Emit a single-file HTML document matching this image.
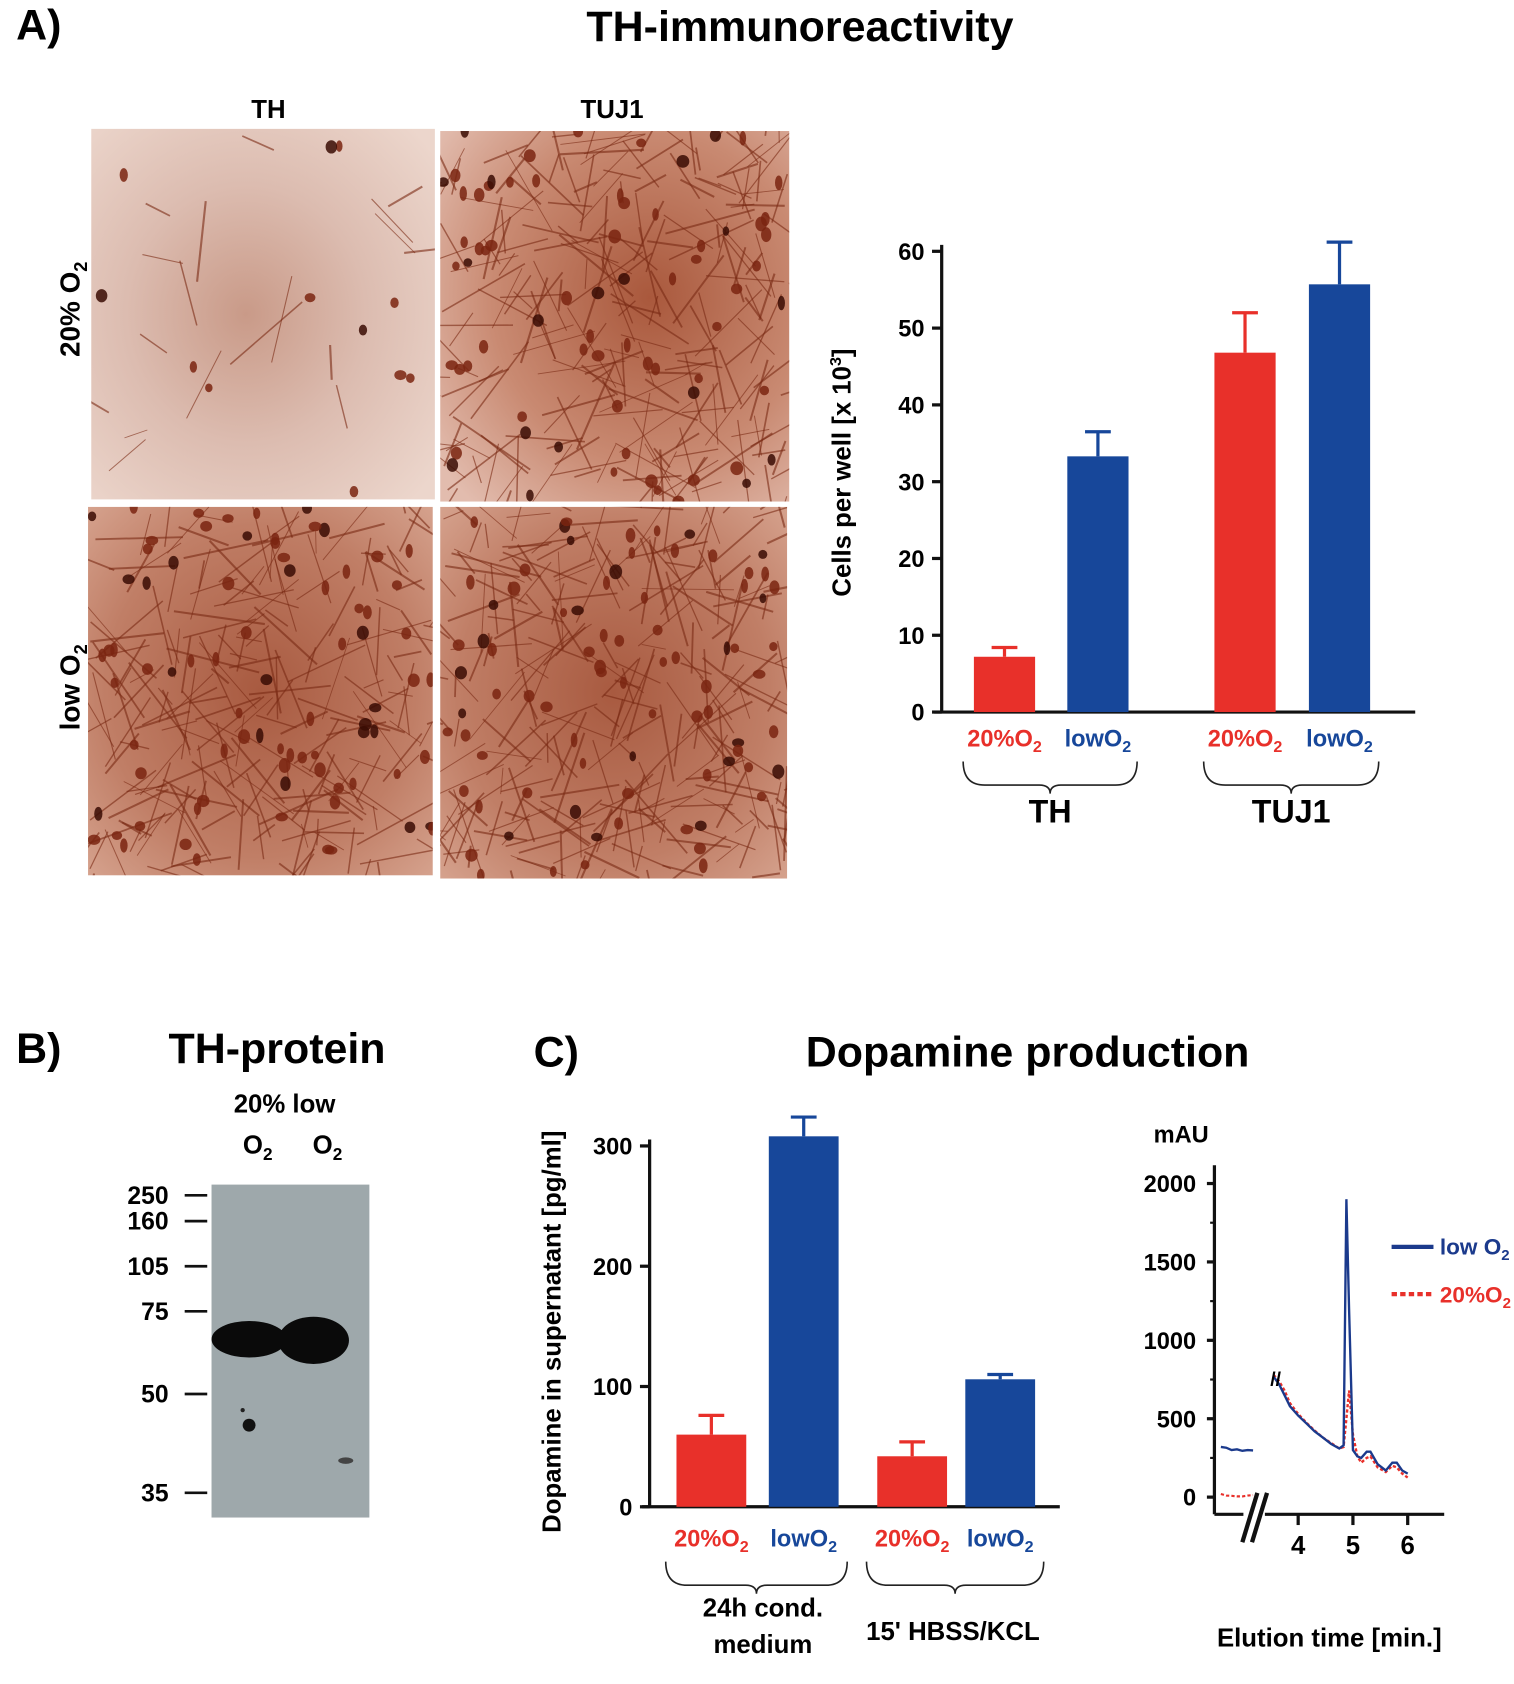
<!DOCTYPE html>
<html><head><meta charset="utf-8"><style>
html,body{margin:0;padding:0;background:#fff}
svg{display:block}
text{font-family:"Liberation Sans",Arial,sans-serif;font-weight:bold}
</style></head><body>
<svg id="fig" width="1514" height="1684" viewBox="0 0 1410 1568" preserveAspectRatio="none" xmlns="http://www.w3.org/2000/svg">
<defs>
<radialGradient id="gTL" cx="0.45" cy="0.5" r="0.7"><stop offset="0" stop-color="#c99a88"/><stop offset="0.5" stop-color="#dcbcb0"/><stop offset="1" stop-color="#ecd6cc"/></radialGradient>
<radialGradient id="gD" cx="0.5" cy="0.5" r="0.75"><stop offset="0" stop-color="#a85a40"/><stop offset="0.6" stop-color="#c07e66"/><stop offset="1" stop-color="#d9a894"/></radialGradient>
<radialGradient id="gTR" cx="0.6" cy="0.45" r="0.75"><stop offset="0" stop-color="#a9583c"/><stop offset="0.6" stop-color="#c98a72"/><stop offset="1" stop-color="#e2bcae"/></radialGradient>
</defs>
<text x="15" y="37" font-size="40">A)</text>
<text x="745" y="38" font-size="40" text-anchor="middle">TH-immunoreactivity</text>
<text x="250" y="110" font-size="24" text-anchor="middle">TH</text>
<text x="570" y="110" font-size="24" text-anchor="middle">TUJ1</text>
<text transform="translate(74,288) rotate(-90)" font-size="26" text-anchor="middle">20% O<tspan font-size="17" dy="7">2</tspan></text>
<text transform="translate(74,640) rotate(-90)" font-size="26" text-anchor="middle">low O<tspan font-size="17" dy="7">2</tspan></text>
<g id="micro"></g>
<g id="chartA"></g>
<!-- B -->
<text x="15" y="990" font-size="40">B)</text>
<text x="258" y="990" font-size="40" text-anchor="middle">TH-protein</text>
<text x="265" y="1036" font-size="24" text-anchor="middle">20% low</text>
<text x="240" y="1074" font-size="24" text-anchor="middle">O<tspan font-size="16" dy="6">2</tspan></text>
<text x="305" y="1074" font-size="24" text-anchor="middle">O<tspan font-size="16" dy="6">2</tspan></text>
<rect x="197" y="1103" width="147" height="310" fill="#9ea8ab"/>
<ellipse cx="232" cy="1247" rx="35" ry="17" fill="#0a0a0a"/>
<ellipse cx="292" cy="1248" rx="33" ry="22" fill="#0a0a0a"/>
<circle cx="232" cy="1327" r="6" fill="#111"/><circle cx="226" cy="1313" r="2" fill="#222"/>
<ellipse cx="322" cy="1360" rx="7" ry="3" fill="#444"/>
<g id="markers"></g>
<!-- C -->
<text x="497" y="993" font-size="40">C)</text>
<text x="957" y="993" font-size="40" text-anchor="middle">Dopamine production</text>
<g id="chartC"></g>
<g id="chrom"></g>
</svg>
<script>
const NS="http://www.w3.org/2000/svg";
function mk(parent,tag,attrs,txt){const e=document.createElementNS(NS,tag);for(const k in attrs)e.setAttribute(k,attrs[k]);if(txt!==undefined)e.textContent=txt;parent.appendChild(e);return e;}

// ---------- Chart A data ----------
const aCategories=["TH","TUJ1"];
const aConditions=["20%O2","lowO2"];
const aValues20=[7.2,46.8];
const aValuesLow=[33.3,55.7];
const aErr20=[1.2,5.2];
const aErrLow=[3.2,5.5];
const aTicks=[0,10,20,30,40,50,60];

// ---------- Chart C data ----------
const cCategories=["24h cond. medium","15' HBSS/KCL"];
const cValues20=[60,42];
const cValuesLow=[308,106];
const cErr20=[16,12];
const cErrLow=[16,4];
const cTicks=[0,100,200,300];

// ---------- Chromatogram data ----------
const chTicksY=[0,500,1000,1500,2000];
const chTicksX=[4,5,6];
const chTime=[3.55,3.65,3.75,3.85,4.0,4.15,4.3,4.45,4.6,4.75,4.83,4.88,4.93,5.0,5.08,5.15,5.25,5.32,5.45,5.6,5.72,5.8,5.9,6.0];
const chLow=[770,720,650,580,520,470,420,380,340,310,330,1900,1200,300,260,250,290,290,210,170,220,220,170,150];
const chHigh=[780,740,680,600,530,475,425,380,345,310,320,500,680,400,260,220,250,260,190,160,200,190,150,125];
const chPreLow=[320,315,300,305,295,300,298];
const chPreHigh=[20,10,8,5,5,10,12];
const markerVals=[250,160,105,75,50,35];

// ---------- Micrographs (decorative texture) ----------
(function(){
  const g=document.getElementById('micro');
  const panels=[
    {x:85,y:120,w:320,h:345,fill:'url(#gTL)',n:12,f:18,name:'micrograph-th-20-o2'},
    {x:410,y:122,w:325,h:345,fill:'url(#gTR)',n:70,f:230,name:'micrograph-tuj1-20-o2'},
    {x:82,y:472,w:321,h:343,fill:'url(#gD)',n:80,f:220,name:'micrograph-th-low-o2'},
    {x:410,y:472,w:323,h:346,fill:'url(#gD)',n:80,f:260,name:'micrograph-tuj1-low-o2'}];
  let s=12345;const rnd=()=>{s=(s*16807)%2147483647;return s/2147483647;};
  panels.forEach(p=>{
    const pg=mk(g,'g',{});
    
    
    mk(pg,'rect',{x:p.x,y:p.y,width:p.w,height:p.h,fill:p.fill});
    const cp='cp'+p.x+p.y;
    const c=mk(pg,'clipPath',{id:cp});mk(c,'rect',{x:p.x,y:p.y,width:p.w,height:p.h});
    const inner=mk(pg,'g',{'clip-path':'url(#'+cp+')'});
    for(let i=0;i<p.f;i++){const x=p.x+rnd()*p.w,y=p.y+rnd()*p.h,a=rnd()*6.28,l=20+rnd()*70;
      mk(inner,'line',{x1:x,y1:y,x2:x+Math.cos(a)*l,y2:y+Math.sin(a)*l,stroke:'#7a2a14','stroke-width':0.8+rnd()*1.2,opacity:0.6});}
    for(let i=0;i<p.n;i++){const x=p.x+rnd()*p.w,y=p.y+rnd()*p.h;
      mk(inner,'ellipse',{cx:x,cy:y,rx:3+rnd()*3,ry:4+rnd()*3,fill:i%4==0?'#3a0c04':'#7a2410',opacity:0.85});}
  });
})();

// ---------- Bar chart helper ----------
function barChart(gid,o){
  const g=document.getElementById(gid);
  const ys=v=>o.y0-(v-o.vmin)/(o.vmax-o.vmin)*(o.y0-o.ytop);
  mk(g,'line',{x1:o.ax,y1:o.ytop-6,x2:o.ax,y2:o.y0,stroke:'#111','stroke-width':3});
  const xa=mk(g,'line',{x1:o.ax-7,y1:o.y0,x2:o.xend,y2:o.y0,stroke:'#111','stroke-width':3});
  
  o.ticks.forEach(t=>{
    mk(g,'line',{x1:o.ax-9,y1:ys(t),x2:o.ax,y2:ys(t),stroke:'#111','stroke-width':3});
    const tl=mk(g,'text',{x:o.ax-16,y:ys(t)+8,'font-size':22,'text-anchor':'end'},String(t));
    
    
  });
  const yt=mk(g,'text',{transform:`translate(${o.titleX},${o.titleY}) rotate(-90)`,'font-size':24,'text-anchor':'middle'});
  
  
  yt.innerHTML=o.title;
  o.cats.forEach((cat,i)=>{
    [[o.v20,o.e20,'#e8302a','20%O','red'],[o.vl,o.el,'#17479a','lowO','blue']].forEach((sr,j)=>{
      const x=o.barX[i][j],w=o.bw,v=sr[0][i],e=sr[1][i];
      const b=mk(g,'rect',{x:x,y:ys(v),width:w,height:o.y0-ys(v),fill:sr[2]});
      
      
      const cx=x+w/2;
      mk(g,'line',{x1:cx,y1:ys(v),x2:cx,y2:ys(v+e),stroke:sr[2],'stroke-width':3});
      mk(g,'line',{x1:cx-12,y1:ys(v+e),x2:cx+12,y2:ys(v+e),stroke:sr[2],'stroke-width':3});
      const lb=mk(g,'text',{x:cx,y:o.labY,'font-size':22,'text-anchor':'middle',fill:sr[2]});
      
      
      lb.innerHTML=sr[3]+'<tspan font-size="15" dy="5">2</tspan>';
    });
    const x1=o.barX[i][0]-10,x2=o.barX[i][1]+o.bw+8,mid=(x1+x2)/2,by=o.labY+14;
    const br=mk(g,'path',{d:`M${x1},${by} Q${x1},${by+22} ${x1+20},${by+22} L${mid-10},${by+22} Q${mid},${by+22} ${mid},${by+30} Q${mid},${by+22} ${mid+10},${by+22} L${x2-20},${by+22} Q${x2},${by+22} ${x2},${by}`,fill:'none',stroke:'#222','stroke-width':1.5});
    
    
    const lines=o.catLines[i];
    lines.forEach((ln,k)=>{
      const ct=mk(g,'text',{x:mid+(o.catDx?o.catDx[i]:0),y:o.catY[i]+k*34,'font-size':o.catSize,'text-anchor':'middle'},ln);
      
      
    });
  });
}
barChart('chartA',{ax:877,y0:663,ytop:234,vmin:0,vmax:60,xend:1318,ticks:aTicks,
  title:'Cells per well [x 10<tspan font-size="15" dy="-9">3</tspan><tspan dy="9">]</tspan>',titleX:792,titleY:440,
  cats:aCategories,v20:aValues20,vl:aValuesLow,e20:aErr20,el:aErrLow,bw:57,
  barX:[[907,994],[1131,1219]],labY:695,catLines:[['TH'],['TUJ1']],catY:[766,766],catSize:30});
barChart('chartC',{ax:605,y0:1403,ytop:1067,vmin:0,vmax:300,xend:987,ticks:cTicks,
  title:'Dopamine in supernatant [pg/ml]',titleX:522,titleY:1240,
  cats:cCategories,v20:cValues20,vl:cValuesLow,e20:cErr20,el:cErrLow,bw:65,
  barX:[[630,716],[817,899]],labY:1440,catLines:[['24h cond.','medium'],["15' HBSS/KCL"]],catY:[1505,1527],catDx:[6,-2],catSize:24});

// ---------- Blot markers ----------
(function(){
  const g=document.getElementById('markers');
  const ys=[1113,1137,1179,1221,1298,1390];
  markerVals.forEach((m,i)=>{
    mk(g,'line',{x1:172,y1:ys[i],x2:193,y2:ys[i],stroke:'#111','stroke-width':2.5});
    const t=mk(g,'text',{x:157,y:ys[i]+8,'font-size':23,'text-anchor':'end'},String(m));
    
    
  });
})();

// ---------- Chromatogram ----------
(function(){
  const g=document.getElementById('chrom');
  const ax=1131,y0=1394,ybase=1410;
  const ys=v=>y0-v/2000*(y0-1102);
  const xs=m=>1209+(m-4)*51;
  mk(g,'line',{x1:ax,y1:1085,x2:ax,y2:ybase,stroke:'#111','stroke-width':3});
  mk(g,'line',{x1:ax,y1:ybase,x2:1345,y2:ybase,stroke:'#111','stroke-width':3});
  mk(g,'rect',{x:1158,y:ybase-4,width:20,height:8,fill:'#fff'});
  mk(g,'line',{x1:1157,y1:1436,x2:1171,y2:1390,stroke:'#111','stroke-width':4});
  mk(g,'line',{x1:1166,y1:1436,x2:1180,y2:1390,stroke:'#111','stroke-width':4});
  chTicksY.forEach(t=>{
    mk(g,'line',{x1:ax-7,y1:ys(t),x2:ax,y2:ys(t),stroke:'#111','stroke-width':3});
    const l=mk(g,'text',{x:ax-17,y:ys(t)+8,'font-size':22,'text-anchor':'end'},String(t));
    
    
  });
  [250,750,1250,1750].forEach(t=>mk(g,'line',{x1:ax-4,y1:ys(t),x2:ax,y2:ys(t),stroke:'#111','stroke-width':2}));
  chTicksX.forEach(t=>{
    mk(g,'line',{x1:xs(t),y1:ybase,x2:xs(t),y2:ybase+10,stroke:'#111','stroke-width':3});
    const l=mk(g,'text',{x:xs(t),y:ybase+37,'font-size':24,'text-anchor':'middle'},String(t));
    
    
  });
  mk(g,'text',{x:1100,y:1064,'font-size':22,'text-anchor':'middle'},'mAU');
  mk(g,'text',{x:1238,y:1533,'font-size':24,'text-anchor':'middle'},'Elution time [min.]');
  const path=(t,v)=>t.map((m,i)=>(i?'L':'M')+xs(m).toFixed(1)+','+ys(v[i]).toFixed(1)).join(' ');
  const pre=(v)=>v.map((val,i)=>(i?'L':'M')+(1137+i*5)+','+ys(val).toFixed(1)).join(' ');
  const lr=mk(g,'path',{d:path(chTime,chHigh),fill:'none',stroke:'#e8302a','stroke-width':2.2,'stroke-dasharray':'3,2'});
  
  
  const lb=mk(g,'path',{d:path(chTime,chLow),fill:'none',stroke:'#1b3a8c','stroke-width':2.2});
  
  
  mk(g,'path',{d:pre(chPreLow),fill:'none',stroke:'#1b3a8c','stroke-width':2.2});
  mk(g,'path',{d:pre(chPreHigh),fill:'none',stroke:'#e8302a','stroke-width':2,'stroke-dasharray':'3,2'});
  mk(g,'text',{x:1183,y:1290,'font-size':18},'//');
  const le1=mk(g,'g',{});
  
  
  mk(le1,'line',{x1:1296,y1:1161,x2:1335,y2:1161,stroke:'#1b3a8c','stroke-width':4});
  mk(le1,'text',{x:1341,y:1168,'font-size':21,fill:'#1b3a8c'}).innerHTML='low O<tspan font-size="14" dy="5">2</tspan>';
  const le2=mk(g,'g',{});
  
  
  mk(le2,'line',{x1:1296,y1:1205,x2:1335,y2:1205,stroke:'#e8302a','stroke-width':4,'stroke-dasharray':'5,3'});
  mk(le2,'text',{x:1341,y:1213,'font-size':21,fill:'#e8302a'}).innerHTML='20%O<tspan font-size="14" dy="5">2</tspan>';
})();
</script>
</body></html>
